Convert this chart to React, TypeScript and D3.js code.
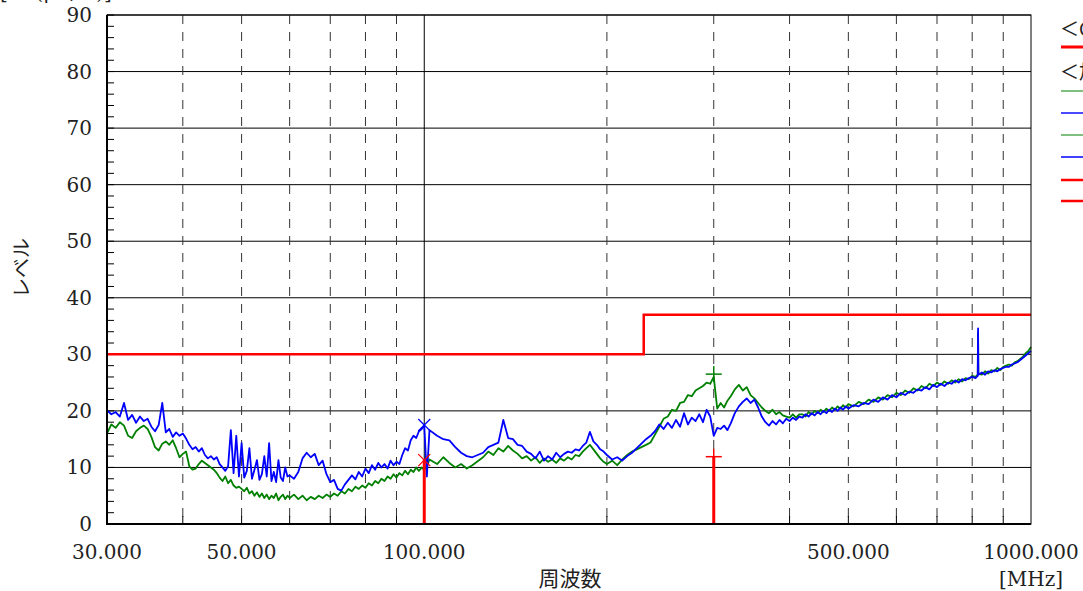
import React from "react";
import * as d3 from "d3";

// ---- data ----
const freqMHz: number[] = [
  30, 30.5, 31, 31.5, 32, 32.5, 33, 33.5, 34, 34.5,
  35, 35.5, 36, 36.5, 37, 37.5, 38, 38.5, 39, 39.5,
  40, 40.5, 41, 41.5, 42, 42.5, 43, 43.5, 44, 44.5,
  45, 45.5, 46, 46.5, 47, 47.5, 48, 48.5, 49, 49.5,
  50, 50.5, 51, 51.5, 52, 52.5, 53, 53.5, 54, 54.5,
  55, 55.5, 56, 56.5, 57, 57.5, 58, 58.5, 59, 59.5,
  60, 61, 62, 63, 64, 65, 66, 67, 68, 69,
  70, 71, 72, 73, 74, 75, 76, 77, 78, 79,
  80, 81, 82, 83, 84, 85, 86, 87, 88, 89,
  90, 91, 92, 93, 94, 95, 96, 97, 98, 99,
  100, 101, 102, 105, 107.5, 110, 112.5, 115, 117.5, 120,
  125, 127.5, 130, 132.5, 135, 137.5, 140, 142.5, 145, 147.5,
  150, 152.5, 155, 157.5, 160, 162.5, 165, 167.5, 170, 172.5,
  175, 177.5, 180, 182.5, 185, 187.5, 190, 192.5, 195, 197.5,
  200, 204, 208, 212, 216, 220, 224, 228, 232, 236,
  240, 244, 248, 252, 256, 260, 264, 268, 272, 276,
  280, 284, 288, 292, 296, 300, 304, 308, 312, 316,
  320, 325, 330, 335, 340, 345, 350, 355, 360, 365,
  370, 375, 380, 385, 390, 395, 400, 405, 410, 415,
  420, 425, 430, 435, 440, 445, 450, 455, 460, 465,
  470, 475, 480, 485, 490, 495, 500, 510, 520, 530,
  540, 550, 560, 570, 580, 590, 600, 610, 620, 630,
  640, 650, 660, 670, 680, 690, 700, 710, 720, 730,
  740, 750, 760, 770, 780, 790, 800, 810, 817, 818,
  819, 830, 840, 850, 860, 870, 880, 890, 900, 910,
  920, 930, 940, 950, 960, 970, 980, 990, 1000,
];

const levelBlue: number[] = [
  20.1, 19.4, 19.8, 19.0, 21.4, 18.4, 19.3, 17.9, 19.0, 18.2,
  18.6, 17.2, 16.4, 17.5, 21.4, 16.2, 16.8, 15.4, 16.2, 15.6,
  16.0, 15.1, 14.0, 13.2, 13.6, 12.8, 13.4, 12.2, 11.6, 12.0,
  11.4, 11.8, 10.6, 10.0, 9.4, 10.2, 16.6, 9.0, 15.6, 8.4,
  14.3, 8.2, 9.4, 13.4, 8.0, 9.6, 11.3, 7.8, 8.8, 12.0,
  8.4, 14.3, 7.6, 9.2, 7.4, 11.3, 8.2, 7.6, 10.0, 8.4,
  8.6, 8.0, 9.2, 11.6, 12.6, 11.8, 12.4, 10.4, 11.2, 8.8,
  7.4, 7.8, 6.2, 5.9, 7.0, 7.8, 8.6, 7.9, 9.2, 8.4,
  9.8, 9.0, 10.4, 9.6, 10.8, 10.0, 10.6, 9.8, 11.2, 10.4,
  11.0, 10.6, 12.2, 13.4, 13.0, 14.8, 15.6, 15.2, 16.4, 16.8,
  17.4, 8.4, 16.6, 15.6, 15.0, 14.8, 13.6, 12.6, 12.0, 11.8,
  12.6, 13.6, 14.0, 14.4, 18.4, 15.2, 15.0, 14.0, 13.8, 12.8,
  12.4, 11.6, 12.8, 11.2, 12.0, 11.4, 12.6, 11.8, 12.4, 12.8,
  12.6, 13.2, 13.0, 13.8, 14.4, 16.3, 14.6, 14.0, 13.2, 12.8,
  12.2, 11.4, 11.8, 11.2, 12.0, 12.6, 13.4, 14.2, 15.0, 15.6,
  16.4, 17.6, 16.8, 17.9, 17.0, 18.4, 17.2, 19.6, 17.6, 18.8,
  18.2, 19.4, 18.0, 20.2, 19.0, 15.6, 17.0, 16.8, 17.4, 16.6,
  17.8, 19.6, 20.8, 21.6, 22.2, 21.4, 22.0, 20.6, 19.0, 18.0,
  17.4, 18.2, 17.6, 18.4, 17.8, 18.6, 18.2, 18.8, 18.4, 19.0,
  18.8, 19.4, 19.0, 19.6, 19.2, 19.8, 19.4, 20.0, 19.6, 20.2,
  19.8, 20.4, 20.0, 20.6, 20.2, 20.8, 20.4, 21.0, 20.8, 21.4,
  21.2, 22.0, 21.6, 22.4, 22.0, 22.8, 22.4, 23.2, 22.8, 23.4,
  23.2, 23.8, 23.6, 24.2, 23.8, 24.6, 24.2, 24.8, 24.4, 25.0,
  24.8, 25.4, 25.0, 25.6, 25.4, 25.8, 26.0, 25.8, 26.2, 34.6,
  26.4, 26.8, 26.4, 27.0, 26.8, 27.2, 27.0, 27.4, 27.6, 27.8,
  27.8, 28.2, 28.4, 28.6, 29.0, 29.4, 29.8, 30.2, 30.6,
];

const levelGreen: number[] = [
  16.0, 17.6, 17.0, 18.0, 17.4, 15.6, 15.2, 16.4, 17.0, 17.4,
  16.8, 15.4, 13.6, 13.0, 14.2, 14.6, 14.0, 14.8, 13.4, 11.8,
  12.4, 12.8, 10.2, 9.6, 9.8, 10.6, 11.2, 10.8, 10.4, 10.0,
  9.6, 9.0, 8.2, 7.6, 8.4, 7.2, 7.8, 6.8, 6.4, 6.6,
  6.2, 5.8, 6.4, 5.4, 5.8, 5.0, 5.6, 4.8, 5.4, 4.6,
  5.2, 4.4, 5.0, 4.6, 5.4, 4.2, 4.8, 5.2, 4.4, 5.0,
  4.6, 5.2, 4.4, 5.0, 4.2, 4.8, 4.4, 5.0, 4.6, 5.2,
  4.8, 5.4, 5.0, 5.8, 5.4, 6.2, 5.8, 6.6, 6.2, 6.8,
  6.4, 7.2, 6.8, 7.6, 7.2, 8.0, 7.6, 8.4, 8.0, 8.8,
  8.2, 9.0, 8.6, 9.4, 8.8, 9.6, 9.2, 10.0, 9.4, 10.0,
  9.6, 10.2, 11.4, 10.6, 11.8, 10.8, 10.0, 10.6, 9.8, 10.4,
  11.8, 12.8, 12.2, 13.4, 12.8, 13.8, 13.0, 12.4, 11.6, 12.0,
  11.2, 11.8, 10.8, 11.6, 11.0, 11.4, 10.8, 11.6, 11.2, 11.8,
  11.4, 12.2, 12.0, 12.8, 13.4, 14.0, 13.2, 12.4, 11.6, 11.0,
  10.6, 11.2, 10.4, 11.4, 12.2, 12.8, 13.2, 13.6, 14.0, 14.4,
  15.8, 17.2, 18.6, 19.0, 20.2, 20.0, 21.4, 21.6, 22.8, 22.6,
  23.6, 24.0, 24.4, 25.0, 24.8, 26.0, 20.4, 21.4, 20.6, 21.8,
  22.6, 23.8, 24.6, 23.6, 24.2, 22.8, 22.2, 21.4, 20.6, 20.0,
  19.6, 20.2, 19.4, 19.8, 19.2, 19.0, 18.8, 19.4, 18.8, 19.4,
  19.4, 19.0, 19.8, 19.4, 20.0, 19.6, 20.2, 19.8, 20.4, 20.0,
  20.6, 20.2, 20.8, 20.4, 21.0, 20.6, 21.2, 20.8, 21.6, 21.2,
  22.0, 21.6, 22.4, 22.0, 22.8, 22.4, 23.2, 22.8, 23.6, 23.2,
  24.0, 23.6, 24.4, 24.0, 24.8, 24.4, 25.0, 24.6, 25.2, 24.8,
  25.4, 25.0, 25.6, 25.2, 25.8, 25.6, 26.2, 26.0, 26.4, 33.8,
  26.6, 26.4, 27.0, 26.6, 27.2, 27.0, 27.6, 27.2, 27.8, 28.0,
  28.2, 28.0, 28.6, 28.8, 29.2, 29.6, 30.2, 30.6, 31.3,
];

const limitFreq: number[] = [30, 230, 230, 1000];
const limitLevel: number[] = [30, 30, 37, 37];

const yTickValues: number[] = [0, 10, 20, 30, 40, 50, 60, 70, 80, 90];
const yMinorTicks: number[] = [0, 2, 4, 6, 8, 10, 12, 14, 16, 18, 20, 22, 24, 26, 28, 30, 32, 34, 36, 38, 40, 42, 44, 46, 48, 50, 52, 54, 56, 58, 60, 62, 64, 66, 68, 70, 72, 74, 76, 78, 80, 82, 84, 86, 88, 90];
const xTickValues: number[] = [30, 50, 100, 500, 1000];
const xTickLabels: string[] = ["30.000", "50.000", "100.000", "500.000", "1000.000"];
const xGridFreqs: number[] = [40, 50, 60, 70, 80, 90, 200, 300, 400, 500, 600, 700, 800, 900];
const xSolidGrid: number[] = [100];

// QP markers (red bars)
const qpFreq: number[] = [100, 300];
const qpLevel: number[] = [11.3, 11.9];
const qpShape: string[] = ["x", "+"];
// Peak markers
const peakFreq: number[] = [100, 300];
const peakLevel: number[] = [17.5, 26.5];
const peakShape: string[] = ["x", "+"];
const peakColor: string[] = ["#0000ff", "#008000"];

const legendTitles: string[] = ["＜CISPR22 ClassB＞", "＜加算データ＞"];

// ---- layout ----
const W = 1083;
const H = 591;
const L = 107;
const R = 1031;
const T = 15;
const B = 524;

const serif = "'DejaVu Serif', 'Noto Sans CJK JP', serif";
const cjk = "'Noto Sans CJK JP', sans-serif";

function Marker({ cx, cy, shape, color, r }: { cx: number; cy: number; shape: string; color: string; r: number }) {
  if (shape === "x") {
    return (
      <g stroke={color} strokeWidth={1.2}>
        <line x1={cx - r} y1={cy - r} x2={cx + r} y2={cy + r} />
        <line x1={cx - r} y1={cy + r} x2={cx + r} y2={cy - r} />
      </g>
    );
  }
  return (
    <g stroke={color} strokeWidth={1.5}>
      <line x1={cx - r} y1={cy} x2={cx + r} y2={cy} />
      <line x1={cx} y1={cy - r} x2={cx} y2={cy + r} />
    </g>
  );
}

export default function App() {
  const x = d3.scaleLog().domain([30, 1000]).range([L, R]);
  const y = d3.scaleLinear().domain([0, 90]).range([B, T]);

  const line = d3
    .line<[number, number]>()
    .x((d) => x(d[0]))
    .y((d) => y(d[1]));

  const blue = freqMHz.map((f, i) => [f, levelBlue[i]] as [number, number]);
  const green = freqMHz.map((f, i) => [f, levelGreen[i]] as [number, number]);
  const limit = limitFreq.map((f, i) => [f, limitLevel[i]] as [number, number]);

  const legendLines = [
    { y: 47, color: "#ff0000", w: 3 },
    { y: 91, color: "#008000", w: 1.2 },
    { y: 113, color: "#4a4aff", w: 2 },
    { y: 135, color: "#008000", w: 1.2 },
    { y: 157, color: "#0000ff", w: 1.5 },
    { y: 180, color: "#ff0000", w: 2.5 },
    { y: 201, color: "#ff0000", w: 2.5 },
  ];

  return (
    <svg
      width={W}
      height={H}
      style={{ position: "absolute", left: 0, top: 0, background: "#fff" }}
    >
      <rect x={0} y={0} width={W} height={H} fill="#fff" />

      {/* horizontal grid */}
      {yTickValues.map((v) => (
        <line key={"hg" + v} x1={L} x2={R} y1={y(v)} y2={y(v)} stroke="#000" strokeWidth={1} />
      ))}
      {/* vertical dashed grid */}
      {xGridFreqs.map((f) => (
        <line
          key={"vg" + f}
          x1={x(f)}
          x2={x(f)}
          y1={T}
          y2={B}
          stroke="#333"
          strokeWidth={1}
          strokeDasharray="9 8"
        />
      ))}
      {xSolidGrid.map((f) => (
        <line key={"vs" + f} x1={x(f)} x2={x(f)} y1={T} y2={B} stroke="#000" strokeWidth={1} />
      ))}
      {/* bottom ticks */}
      {xGridFreqs.map((f) => (
        <line key={"bt" + f} x1={x(f)} x2={x(f)} y1={B} y2={B - 8} stroke="#000" strokeWidth={1} />
      ))}
      {/* left minor ticks */}
      {yMinorTicks.map((v) => (
        <line key={"yt" + v} x1={L} x2={L + 7} y1={y(v)} y2={y(v)} stroke="#000" strokeWidth={1} />
      ))}

      {/* limit line */}
      <path d={line(limit) || ""} fill="none" stroke="#ff0000" strokeWidth={2.5} />

      {/* traces */}
      <path d={line(green) || ""} fill="none" stroke="#008000" strokeWidth={1.8} strokeLinejoin="round" />
      <path d={line(blue) || ""} fill="none" stroke="#0000ff" strokeWidth={1.8} strokeLinejoin="round" />

      {/* QP bars */}
      {qpFreq.map((f, i) => (
        <g key={"qp" + f}>
          <line x1={x(f)} x2={x(f)} y1={B} y2={y(qpLevel[i])} stroke="#ff0000" strokeWidth={3} />
          <Marker cx={x(f)} cy={y(qpLevel[i])} shape={qpShape[i]} color="#ff0000" r={qpShape[i] === "x" ? 6 : 8} />
        </g>
      ))}
      {peakFreq.map((f, i) => (
        <Marker
          key={"pk" + f}
          cx={x(f)}
          cy={y(peakLevel[i])}
          shape={peakShape[i]}
          color={peakColor[i]}
          r={peakShape[i] === "x" ? 6 : 8}
        />
      ))}

      {/* frame */}
      <rect x={L} y={T} width={R - L} height={B - T} fill="none" stroke="#000" strokeWidth={1} />
      <line x1={L} x2={L} y1={T} y2={B + 1} stroke="#000" strokeWidth={2} />
      <line x1={L - 1} x2={R} y1={B} y2={B} stroke="#000" strokeWidth={2} />

      {/* y tick labels */}
      {yTickValues.map((v) => (
        <text
          key={"yl" + v}
          x={92}
          y={y(v)}
          textAnchor="end"
          dominantBaseline="central"
          fontFamily={serif}
          fontSize={20}
          fill="#222"
        >
          {v}
        </text>
      ))}
      {/* x tick labels */}
      {xTickValues.map((f, i) => (
        <text
          key={"xl" + f}
          x={x(f)}
          y={559}
          textAnchor="middle"
          fontFamily={serif}
          fontSize={20}
          fill="#222"
        >
          {xTickLabels[i]}
        </text>
      ))}

      {/* axis titles */}
      <text x={570} y={586} textAnchor="middle" fontFamily={cjk} fontSize={21} fill="#222">
        周波数
      </text>
      <text x={1031} y={586} textAnchor="middle" fontFamily={serif} fontSize={20} fill="#222">
        [MHz]
      </text>
      <text
        transform="translate(20,268) rotate(-90)"
        textAnchor="middle"
        dominantBaseline="central"
        fontFamily={cjk}
        fontSize={20}
        fill="#222"
      >
        レベル
      </text>
      <text x={0} y={-1} fontFamily={serif} fontSize={20} fill="#222">
        [dB(μV/m)]
      </text>

      {/* legend (clipped at right edge) */}
      <text x={1060} y={27} dominantBaseline="central" fontFamily={cjk} fontSize={19} fill="#222">
        {legendTitles[0]}
      </text>
      <text x={1060} y={70} dominantBaseline="central" fontFamily={cjk} fontSize={19} fill="#222">
        {legendTitles[1]}
      </text>
      {legendLines.map((l, i) => (
        <line key={"lg" + i} x1={1061} x2={1100} y1={l.y} y2={l.y} stroke={l.color} strokeWidth={l.w} />
      ))}
    </svg>
  );
}
